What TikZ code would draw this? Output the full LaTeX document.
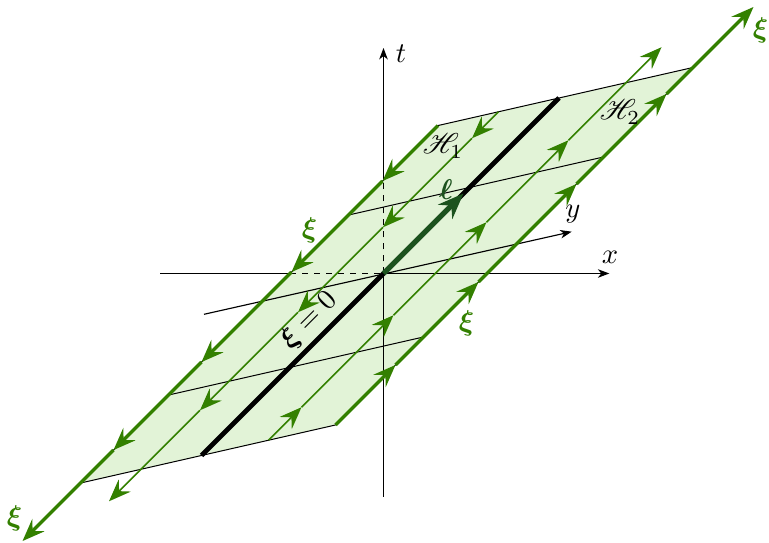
\documentclass[tikz,border=0pt]{standalone}
\usepackage{amsmath,bm,mathrsfs}
\usetikzlibrary{arrows.meta}
\definecolor{gline}{RGB}{51,128,0}
\definecolor{gfill}{RGB}{226,243,215}
\definecolor{gdark}{RGB}{28,82,30}
\tikzset{
 garrow/.tip={Stealth[length=7.8pt,width=6pt,inset=2.8pt]},
 axarrow/.tip={Stealth[length=4pt,width=3pt,inset=1.2pt]},
 ltip/.tip={Stealth[length=9pt,width=7pt,inset=3pt]},
 gedge/.style={draw=gline,line width=1.15pt},
 gmid/.style={draw=gline,line width=0.55pt},
 thinline/.style={draw=black,line width=0.35pt},
 axisline/.style={draw=black,line width=0.4pt},
 hidden/.style={axisline,dash pattern=on 2.2pt off 2pt},
 glabel/.style={text=gline,inner sep=0pt},
 lab/.style={inner sep=0pt}
}
\begin{document}
\begin{tikzpicture}[x=0.35pt,y=-0.35pt]
\useasboundingbox (0,0) rectangle (769,543);
% key points
\coordinate (O) at (383.5,273.5);
\coordinate (TL) at (438,125.55);
\coordinate (TR) at (693,67.49);
\coordinate (BR) at (335.5,424.99);
\coordinate (BL) at (80.5,483.05);
\coordinate (C1a) at (348.5,215.05);
\coordinate (C1b) at (603.5,156.99);
\coordinate (C2a) at (168.5,395.05);
\coordinate (C2b) at (423.5,336.99);
\coordinate (LB) at (201.5,455.5);
\coordinate (LT) at (559,98);
\coordinate (LA) at (463.5,193.5);
\coordinate (XS) at (160,273.5);
\coordinate (XM) at (290,273.5);
\coordinate (XE) at (609.3,273.5);
\coordinate (TS) at (383.5,497);
\coordinate (TM) at (383.5,180);
\coordinate (TE) at (383.5,48);
\coordinate (YS) at (204,314.3);
\coordinate (YE) at (571.7,231.7);
% plane
\draw[thinline,fill=gfill] (TL) -- (TR) -- (BR) -- (BL) -- cycle;
\draw[thinline] (C1a) -- (C1b);
\draw[thinline] (C2a) -- (C2b);
% axes
\draw[axisline] (XS) -- (XM);
\draw[hidden] (XM) -- (O);
\draw[axisline,-{axarrow}] (O) -- (XE);
\draw[axisline] (TS) -- (O);
\draw[hidden] (O) -- (TM);
\draw[axisline,-{axarrow}] (TM) -- (TE);
\draw[axisline,-{axarrow}] (YS) -- (YE);
% line ell
\draw[line width=1.7pt,black] (LB) -- (LT);
\draw[line width=1.8pt,gdark,-{ltip}] (O) -- (LA);
% green lines
\foreach \n/\sv in {0/175.5,1/120,2/29,3/-61,4/-149,5/-240}
  \coordinate (LE\n) at ({262.5+(\sv)},{301.05-(\sv)});
\foreach \n/\sv in {0/175.5,1/149,2/60,3/-25,4/-123,5/-214}
  \coordinate (LM\n) at ({323+(\sv)},{287.28-(\sv)});
\foreach \n/\sv in {0/-182,1/-149,2/-57,3/36,4/118,5/211}
  \coordinate (RM\n) at ({450.5+(\sv)},{258.24-(\sv)});
\foreach \n/\sv in {0/-182,1/-122,2/-39,3/59,4/149,5/236}
  \coordinate (RE\n) at ({517.5+(\sv)},{242.99-(\sv)});
\foreach \a/\b in {0/1,1/2,2/3,3/4,4/5}{
  \draw[gedge,-{garrow}] (LE\a) -- (LE\b);
  \draw[gmid,-{garrow}] (LM\a) -- (LM\b);
  \draw[gmid,-{garrow}] (RM\a) -- (RM\b);
  \draw[gedge,-{garrow}] (RE\a) -- (RE\b);
}
% labels
\node[lab] (lt) at (401,54) {$t$};
\node[lab] (lx) at (610,257) {$x$};
\node[lab] (ly) at (573,214) {$y$};
\node[lab] (lh1) at (443,146) {$\mathscr{H}_1$};
\node[lab] (lh2) at (620,112) {$\mathscr{H}_2$};
\node[lab,text=gdark] (lell) at (446,190) {$\bm{\ell}$};
\node[glabel] (xi1) at (14.5,518) {$\bm{\xi}$};
\node[glabel] (xi2) at (760.5,30.5) {$\bm{\xi}$};
\node[glabel] (xi3) at (309.5,230.5) {$\bm{\xi}$};
\node[glabel] (xi4) at (466.5,323) {$\bm{\xi}$};
\node[lab,rotate=45] (xi0) at (309,320) {$\bm{\xi}=0$};
\end{tikzpicture}
\end{document}
